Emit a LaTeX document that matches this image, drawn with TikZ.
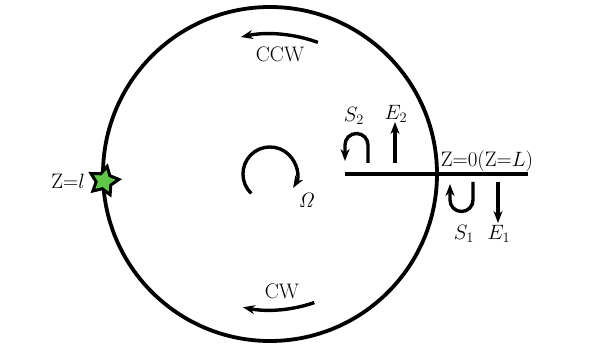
\documentclass[tikz,border=0pt]{standalone}
\usetikzlibrary{arrows.meta,shapes.geometric}
\definecolor{stargreen}{RGB}{96,200,72}
\tikzset{
  lbl/.style={font=\fontsize{21}{24}\selectfont, inner sep=0pt},
  arr/.style={line width=3.4pt, -{Stealth[length=12pt,width=9pt]}},
}
\begin{document}
\begin{tikzpicture}[x=1pt,y=1pt]
\useasboundingbox (0,0) rectangle (613,345);
% ring
\node[circle, draw, line width=3.8pt, minimum size=334pt, inner sep=0pt] (ring) at (270,171) {};
% horizontal fibre
\coordinate (hl) at (345,171);
\coordinate (hr) at (528,171);
\draw[line width=4.4pt] (hl) -- (hr);
% star
\node[star, star points=5, star point ratio=1.9, minimum size=30pt, inner sep=0pt,
      draw=black, line width=3pt, fill=stargreen, rotate=-12] (st) at (104,164) {};
\node[lbl, anchor=east] (zl) at (85,164) {Z=$l$};
% rotation Omega
\coordinate (om) at (251.2,151.6);
\draw[arr] (om) arc[start angle=226, end angle=-31, radius=27];
\node[lbl] (omega) at (307,145) {$\mathit{\Omega}$};
% CCW
\coordinate (ccws) at (317.9,302.6);
\draw[arr] (ccws) arc[start angle=70, end angle=102, radius=140];
\node[lbl] (ccw) at (280,291) {CCW};
% CW
\coordinate (cws) at (314.3,42.4);
\draw[arr] (cws) arc[start angle=-71, end angle=-101.5, radius=136];
\node[lbl] (cw) at (282,54) {CW};
% S2 hook
\coordinate (s2s) at (368,182);
\draw[arr] (s2s) -- (368,200) arc[start angle=0, end angle=180, radius=11.5] -- (345,184);
\node[lbl] (s2) at (354,229) {$S_2$};
% E2
\coordinate (e2s) at (395,182);
\coordinate (e2e) at (395,223);
\draw[arr] (e2s) -- (e2e);
\node[lbl] (e2) at (396,231) {$E_2$};
% S1 hook
\coordinate (s1s) at (473,163);
\draw[arr] (s1s) -- (473,145) arc[start angle=0, end angle=-180, radius=11.5] -- (450,161);
\node[lbl] (s1) at (464,111) {$S_1$};
% E1
\coordinate (e1s) at (498,163);
\coordinate (e1e) at (498,122);
\draw[arr] (e1s) -- (e1e);
\node[lbl] (e1) at (499,111) {$E_1$};
% Z=0 label
\node[lbl] (z0) at (487,184) {Z=0(Z=$L$)};
\end{tikzpicture}
\end{document}
